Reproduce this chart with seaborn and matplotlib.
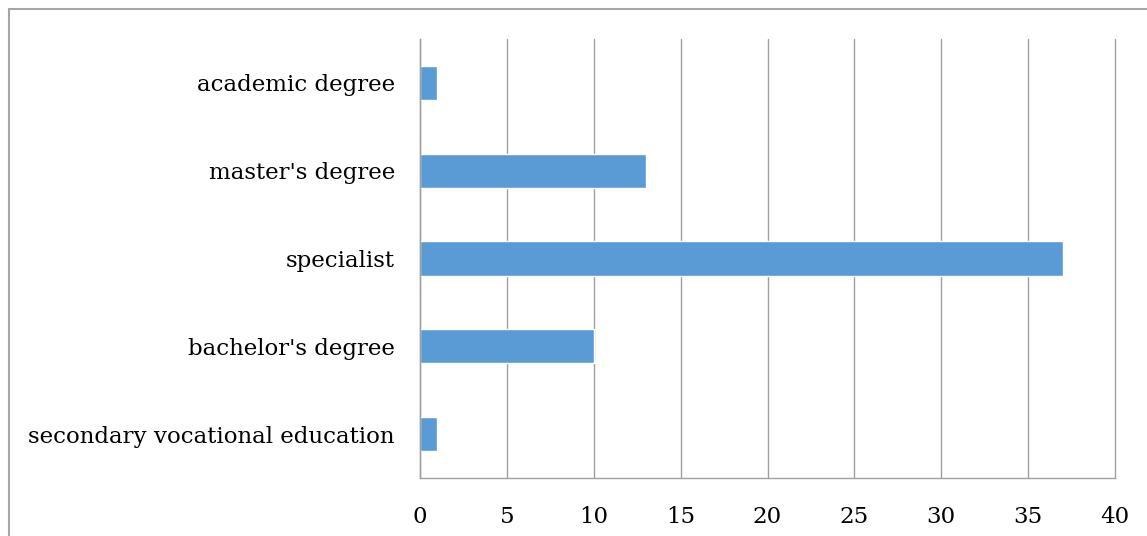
import matplotlib
matplotlib.use("Agg")
import matplotlib.pyplot as plt
import seaborn as sns
import pandas as pd
from matplotlib.patches import Rectangle

categories = ["academic degree", "master's degree", "specialist",
              "bachelor's degree", "secondary vocational education"]
values = [1, 13, 37, 10, 1]
xticks = [0, 5, 10, 15, 20, 25, 30, 35, 40]

sns.set_theme(style="white")
plt.rcParams['font.family'] = ['DejaVu Serif', 'Liberation Serif']

df = pd.DataFrame({"category": categories, "value": values})

fig = plt.figure(figsize=(11.47, 5.36), dpi=100)
ax = fig.add_axes([420/1147, 1 - 478/536, (1115-420)/1147, (478-39)/536])

sns.barplot(data=df, x="value", y="category", orient="h", color="#5B9BD5",
            saturation=1, width=0.39, ax=ax)

ax.set_xlim(0, 40)
ax.set_ylim(4.5, -0.5)
ax.set_xticks(xticks)
ax.set_xticklabels([str(t) for t in xticks])
ax.set_xlabel("")
ax.set_ylabel("")
ax.grid(axis="x", color="#A0A0A0", linewidth=1.0)
for gl in ax.get_xgridlines():
    gl.set_clip_on(False)
ax.set_axisbelow(True)
for s in ["top", "right"]:
    ax.spines[s].set_visible(False)
for s in ["left", "bottom"]:
    ax.spines[s].set_color("#A0A0A0")
    ax.spines[s].set_linewidth(1.0)
ax.tick_params(axis="x", length=0, pad=20, labelsize=16.5, labelcolor="black")
ax.tick_params(axis="y", length=0, pad=18, labelsize=16.5, labelcolor="black")

# outer chart border (partly cropped in the reference)
fig.patches.append(Rectangle((9/1147, -0.05), 1.2, 1 - 9/536 + 0.05,
                             transform=fig.transFigure, fill=False,
                             edgecolor="#A6A6A6", linewidth=1.5))

fig.savefig("out.png", dpi=100)
